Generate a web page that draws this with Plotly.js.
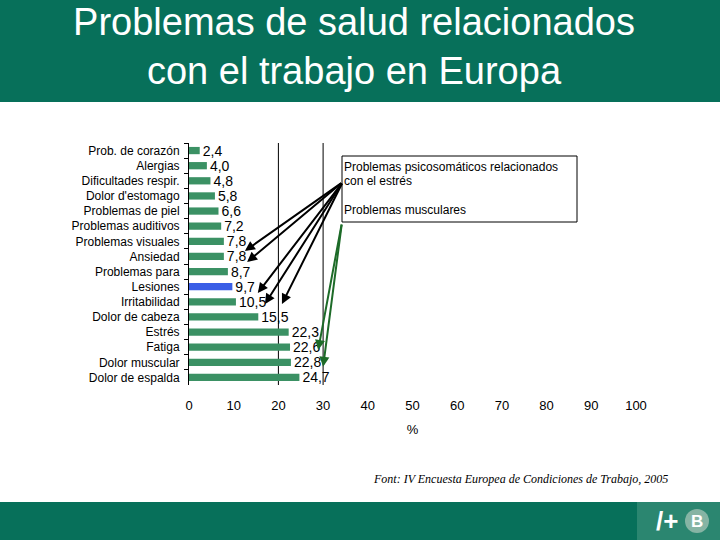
<!DOCTYPE html>
<html>
<head>
<meta charset="utf-8">
<script src="https://cdn.plot.ly/plotly-3.0.1.min.js"></script>
<style>html,body{margin:0;padding:0;background:#fff;}#chart{width:720px;height:540px;}</style>
</head>
<body>
<div id="chart"></div>
<script>
// Data (top to bottom)
const categories = ["Prob. de corazón","Alergias","Dificultades respir.","Dolor d'estomago","Problemas de piel","Problemas auditivos","Problemas visuales","Ansiedad","Problemas para","Lesiones","Irritabilidad","Dolor de cabeza","Estrés","Fatiga","Dolor muscular","Dolor de espalda"];
const values = [2.4,4.0,4.8,5.8,6.6,7.2,7.8,7.8,8.7,9.7,10.5,15.5,22.3,22.6,22.8,24.7];
const highlighted = "Lesiones";
const xTicks = [0,10,20,30,40,50,60,70,80,90,100];
const boxLines = ["Problemas psicosomáticos relacionados", "con el estrés", "Problemas musculares"];

const GREEN = "#3b9164", BLUE = "#3a5ee6", HEADER = "#07705a";
const FONT = "Liberation Sans, Arial, sans-serif";
const W = 720, H = 540, L = 189, R = 84, T = 143, B = 155;
const pw = W - L - R, ph = H - T - B;
const px = v => (v - L) / pw;           // pixel -> paper x
const py = v => (H - B - v) / ph;       // pixel -> paper y

const trace = {
  type: "bar", orientation: "h",
  y: categories, x: values,
  marker: {color: categories.map(c => c === highlighted ? BLUE : GREEN)},
  text: values.map(v => v.toFixed(1).replace(".", ",")),
  textposition: "outside", constraintext: "none", cliponaxis: false,
  textfont: {family: FONT, size: 14, color: "#000"},
  hoverinfo: "none"
};

function arrow(tx, ty, ax, ay, color) {
  return {x: tx, y: ty, xref: "x", yref: "y", ax: ax, ay: ay, axref: "x", ayref: "y",
    text: "", showarrow: true, arrowhead: 2, arrowsize: 1, arrowwidth: 2, arrowcolor: color, standoff: 0};
}
function label(text, x, y, size, extra) {
  return Object.assign({text: text, xref: "paper", yref: "paper", x: px(x), y: py(y),
    xanchor: "center", yanchor: "middle", showarrow: false,
    font: {family: FONT, size: size, color: "#000"}}, extra || {});
}
const blackTail = [34.4, 2.08], greenTail = [34.2, 4.79];

const annotations = [
  label(boxLines[0], 342, 167, 12, {xanchor: "left"}),
  label(boxLines[1], 342, 181, 12, {xanchor: "left"}),
  label(boxLines[2], 342, 210, 12, {xanchor: "left"}),
  arrow(12.5, 6.64, blackTail[0], blackTail[1], "#000"),
  arrow(13.0, 7.37, blackTail[0], blackTail[1], "#000"),
  arrow(15.4, 9.41, blackTail[0], blackTail[1], "#000"),
  arrow(17.0, 10.14, blackTail[0], blackTail[1], "#000"),
  arrow(20.8, 10.14, blackTail[0], blackTail[1], "#000"),
  arrow(28.9, 13.18, greenTail[0], greenTail[1], "#1d6b28"),
  arrow(30.0, 14.3, greenTail[0], greenTail[1], "#1d6b28"),
  label("Font: IV Encuesta Europea de Condiciones de Trabajo, 2005", 520, 479, 12,
    {font: {family: "Liberation Serif, Times New Roman, serif", size: 12, color: "#000", style: "italic"}}),
  label("<b>/+</b>", 667, 521, 26, {font: {family: FONT, size: 26, color: "#fff"}}),
  label("<b>B</b>", 697, 521, 17, {font: {family: FONT, size: 17, color: "#fff"}})
];

const shapes = [
  {type: "rect", xref: "paper", yref: "paper", x0: px(0), x1: px(720), y0: py(102), y1: py(0), fillcolor: HEADER, line: {width: 0}, layer: "below"},
  {type: "rect", xref: "paper", yref: "paper", x0: px(0), x1: px(720), y0: py(540), y1: py(502), fillcolor: HEADER, line: {width: 0}, layer: "below"},
  {type: "rect", xref: "paper", yref: "paper", x0: px(637), x1: px(720), y0: py(540), y1: py(502), fillcolor: "#2b8670", line: {width: 0}, layer: "below"},
  {type: "circle", xref: "paper", yref: "paper", x0: px(685), x1: px(709), y0: py(533), y1: py(509), fillcolor: "#86b4a4", line: {width: 0}, layer: "below"},
  {type: "rect", xref: "paper", yref: "paper", x0: px(342), x1: px(577), y0: py(222), y1: py(156), fillcolor: "#fff", line: {color: "#000", width: 1}, layer: "below"},
  {type: "line", xref: "x", yref: "paper", x0: 20, x1: 20, y0: 0, y1: 1, line: {color: "#000", width: 1}, layer: "below"},
  {type: "line", xref: "x", yref: "paper", x0: 30, x1: 30, y0: 0, y1: 1, line: {color: "#000", width: 1}, layer: "below"}
];

const layout = {
  width: W, height: H, margin: {l: L, r: R, t: T, b: B},
  paper_bgcolor: "#fff", plot_bgcolor: "rgba(0,0,0,0)",
  showlegend: false, bargap: 0.52,
  title: {text: "Problemas de salud relacionados<br>con el trabajo en Europa",
    x: 354 / W, xanchor: "center", y: 1 - 35 / H, yanchor: "middle", yref: "container",
    font: {family: FONT, size: 38, color: "#fff"}},
  xaxis: {range: [0, 100], tickvals: xTicks, ticktext: xTicks.map(String),
    showgrid: false, zeroline: false, showline: false,
    ticks: "outside", ticklen: 8, tickcolor: "rgba(0,0,0,0)",
    tickfont: {family: FONT, size: 13, color: "#000"},
    title: {text: "%", standoff: 13, font: {family: FONT, size: 13, color: "#000"}},
    automargin: false, fixedrange: true},
  yaxis: {type: "category", autorange: "reversed", showgrid: false, zeroline: false,
    showline: true, linecolor: "#000", linewidth: 1,
    ticks: "outside", tickson: "boundaries", ticklen: 4, tickcolor: "#000",
    ticklabelstandoff: 6,
    tickfont: {family: FONT, size: 12, color: "#000"},
    automargin: false, fixedrange: true},
  annotations: annotations, shapes: shapes,
  separators: ", "
};

Plotly.newPlot("chart", [trace], layout, {displayModeBar: false, staticPlot: true});
</script>
</body>
</html>
